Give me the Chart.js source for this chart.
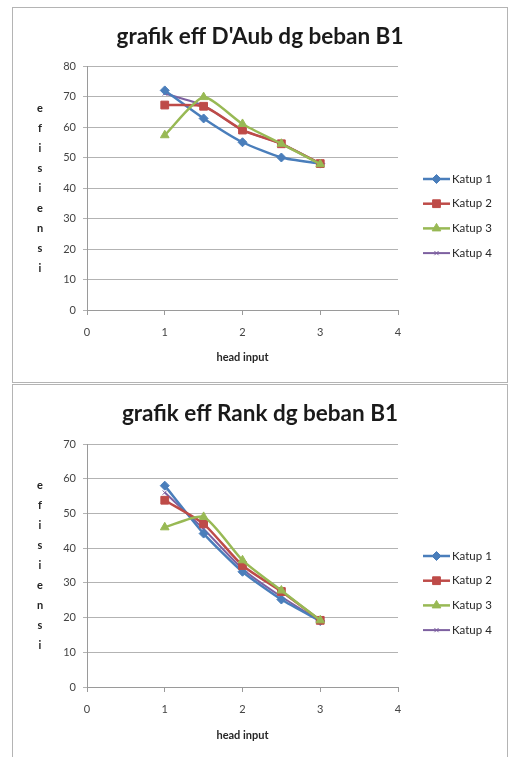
<!DOCTYPE html>
<html>
<head>
<meta charset="utf-8">
<script src="https://cdn.jsdelivr.net/npm/chart.js@4/dist/chart.umd.min.js"></script>
<style>
  html, body { margin: 0; padding: 0; background: #fff; width: 510px; height: 757px; overflow: hidden; }
  .box { position: absolute; left: 12px; width: 494px; border: 1px solid #b4b4b4; background: #fff; }
  #box1 { top: 7px; height: 374px; }
  #box2 { top: 384px; height: 380px; }
  canvas { position: absolute; left: 0; top: 0; }
</style>
</head>
<body>
<div class="box" id="box1"><canvas id="chartDaub" width="494" height="374"></canvas></div>
<div class="box" id="box2"><canvas id="chartRank" width="494" height="372"></canvas></div>
<script>
// head input values shared by every series
const headInput = [1, 1.5, 2, 2.5, 3];
const seriesNames = ['Katup 1', 'Katup 2', 'Katup 3', 'Katup 4'];

// efficiency (D'Aubuisson) for load B1
const daubKatup1 = [72, 62.8, 55, 50, 48];
const daubKatup2 = [67.2, 66.8, 59, 54.5, 48];
const daubKatup3 = [57.3, 69.8, 61, 54.5, 47.8];
const daubKatup4 = [71, 67, 59, 54.5, 48];

// efficiency (Rankine) for load B1
const rankKatup1 = [58, 44.2, 33.2, 25.2, 19];
const rankKatup2 = [53.8, 47, 35, 27.5, 19.2];
const rankKatup3 = [46, 49, 36.5, 27.8, 19.2];
const rankKatup4 = [56, 45.5, 34, 26, 19];

const xTicks = [0, 1, 2, 3, 4];
const yTitleText = 'efisiensi';
const xTitleText = 'head input';

// drawOrder: higher values are painted first (further back)
const seriesStyle = [
  { color: '#4a7ebb', point: 'rectRot', radius: 4.5, width: 2.5, drawOrder: 3 },
  { color: '#be4b48', point: 'rect', radius: 5.5, width: 2.5, drawOrder: 2 },
  { color: '#98b954', point: 'triangle', radius: 5, width: 2.5, drawOrder: 1 },
  { color: '#7d60a0', point: 'crossRot', radius: 3, width: 2, drawOrder: 4 }
];

const FONT = 'Lato, "Open Sans", sans-serif';

// y-axis title written as a column of letters, centred on the plot area
const stackedYTitle = {
  id: 'stackedYTitle',
  afterDraw(chart, args, opts) {
    const { ctx, chartArea } = chart;
    const letters = Array.from(opts.text);
    const mid = (chartArea.top + chartArea.bottom) / 2;
    ctx.save();
    ctx.font = 'bold 11px ' + FONT;
    ctx.fillStyle = '#222';
    ctx.textAlign = 'center';
    ctx.textBaseline = 'middle';
    letters.forEach((ch, i) => {
      ctx.fillText(ch, opts.x, mid + (i - (letters.length - 1) / 2) * opts.spacing);
    });
    ctx.restore();
  }
};

// legend on the right: short line with the series marker, then the name
const sideLegend = {
  id: 'sideLegend',
  afterDraw(chart, args, opts) {
    const { ctx } = chart;
    ctx.save();
    chart.data.datasets.forEach((ds, i) => {
      const y = opts.top + i * opts.step;
      ctx.strokeStyle = ds.borderColor;
      ctx.lineWidth = ds.borderWidth;
      ctx.beginPath();
      ctx.moveTo(opts.x, y);
      ctx.lineTo(opts.x + opts.lineLength, y);
      ctx.stroke();
      const pt = {
        pointStyle: ds.pointStyle,
        radius: ds.pointRadius,
        rotation: 0,
        borderWidth: ds.pointBorderWidth
      };
      ctx.fillStyle = ds.pointBackgroundColor;
      ctx.strokeStyle = ds.pointBorderColor;
      ctx.lineWidth = ds.pointBorderWidth;
      Chart.helpers.drawPoint(ctx, pt, opts.x + opts.lineLength / 2, y);
      ctx.fillStyle = '#262626';
      ctx.font = '11.5px ' + FONT;
      ctx.textAlign = 'left';
      ctx.textBaseline = 'middle';
      ctx.fillText(ds.label, opts.x + opts.lineLength + 2, y);
    });
    ctx.restore();
  }
};

function makeDatasets(seriesValues) {
  return seriesValues.map((values, i) => {
    const s = seriesStyle[i];
    return {
      label: seriesNames[i],
      data: headInput.map((h, k) => ({ x: h, y: values[k] })),
      borderColor: s.color,
      backgroundColor: s.color,
      borderWidth: s.width,
      pointStyle: s.point,
      pointRadius: s.radius,
      pointBackgroundColor: s.color,
      pointBorderColor: s.color,
      pointBorderWidth: 1,
      tension: 0.2,
      order: s.drawOrder,
      yAxisID: 'y'
    };
  });
}

function buildChart(canvasId, cfg) {
  const tickFont = { family: FONT, size: 11 };
  return new Chart(document.getElementById(canvasId), {
    type: 'line',
    data: { datasets: makeDatasets(cfg.series) },
    options: {
      responsive: false,
      animation: false,
      events: [],
      layout: { padding: 0 },
      plugins: {
        legend: { display: false },
        tooltip: { enabled: false },
        title: {
          display: true,
          text: cfg.title,
          color: '#1a1a1a',
          font: { family: FONT, size: 22.5, weight: 'bold' },
          padding: { top: cfg.titleTop, bottom: cfg.titleBottom }
        },
        stackedYTitle: { text: yTitleText, x: 27, spacing: 20 },
        sideLegend: { x: 410, top: 171, step: 24.7, lineLength: 27 }
      },
      scales: {
        x: {
          type: 'linear',
          min: xTicks[0],
          max: xTicks[xTicks.length - 1],
          afterBuildTicks: (scale) => { scale.ticks = xTicks.map(v => ({ value: v })); },
          ticks: { color: '#444', font: tickFont, padding: 11 },
          grid: { drawOnChartArea: false, tickLength: 5, color: '#9a9a9a' },
          border: { color: '#9a9a9a' },
          title: {
            display: true,
            text: xTitleText,
            color: '#262626',
            font: { family: FONT, size: 11, weight: 'bold' },
            padding: { top: 0, bottom: cfg.xTitleBottom }
          },
          afterFit: (scale) => { scale.height = cfg.xAxisHeight; }
        },
        y: {
          type: 'linear',
          position: 'left',
          min: 0,
          max: cfg.yMax,
          afterBuildTicks: (scale) => { scale.ticks = cfg.yTicks.map(v => ({ value: v })); },
          ticks: { color: '#444', font: tickFont, padding: 7 },
          grid: { color: '#b3b3b3', tickLength: 4 },
          border: { color: '#9a9a9a' },
          afterFit: (scale) => { scale.width = 74; }
        },
        // empty band on the right that holds the legend
        legendBand: {
          type: 'linear',
          axis: 'y',
          position: 'right',
          ticks: { display: false },
          grid: { display: false, drawTicks: false },
          border: { display: false },
          afterFit: (scale) => { scale.width = 109; }
        }
      }
    },
    plugins: [stackedYTitle, sideLegend]
  });
}

buildChart('chartDaub', {
  title: "grafik eff D'Aub dg beban B1",
  series: [daubKatup1, daubKatup2, daubKatup3, daubKatup4],
  yMax: 80,
  yTicks: [0, 10, 20, 30, 40, 50, 60, 70, 80],
  titleTop: 15,
  titleBottom: 16,
  xAxisHeight: 72,
  xTitleBottom: 18
});

buildChart('chartRank', {
  title: 'grafik eff Rank dg beban B1',
  series: [rankKatup1, rankKatup2, rankKatup3, rankKatup4],
  yMax: 70,
  yTicks: [0, 10, 20, 30, 40, 50, 60, 70],
  titleTop: 15,
  titleBottom: 17,
  xAxisHeight: 70,
  xTitleBottom: 15
});
</script>
</body>
</html>
